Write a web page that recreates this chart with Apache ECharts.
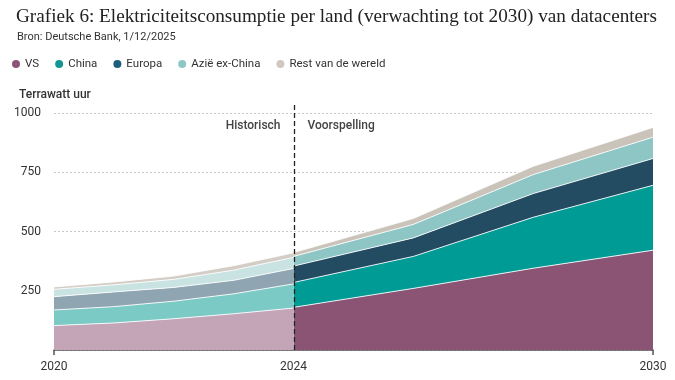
<!DOCTYPE html>
<html>
<head>
<meta charset="utf-8">
<script src="https://cdn.jsdelivr.net/npm/echarts@6/dist/echarts.min.js"></script>
<style>html,body{margin:0;padding:0;background:#fff;}#c{width:675px;height:380px;}</style>
</head>
<body>
<div id="c"></div>
<script>
// ---- data ----
const seriesNames = ['VS', 'China', 'Europa', 'Azië ex-China', 'Rest van de wereld'];
const histYears = [2020, 2021, 2022, 2023, 2024];
const foreYears = [2024, 2026, 2028, 2030];
const histVS     = [103, 114, 132, 153, 177];
const histChina  = [66, 69, 74, 84, 102];
const histEuropa = [56, 62, 58, 57, 65];
const histAzie   = [31, 30, 34, 43, 47];
const histRest   = [10, 12, 14, 19, 19];
const foreVS     = [180, 260, 345, 421];
const foreChina  = [105, 135, 215, 274];
const foreEuropa = [69, 78, 100, 113];
const foreAzie   = [41, 57, 80, 90];
const foreRest   = [16, 25, 35, 41];
const xTickLabels = [2020, 2024, 2030];
const xTickMarks = [2020, 2030];
const splitYear = 2024;
const phaseLabels = ['Historisch', 'Voorspelling'];

// ---- styles ----
const foreColors = ['#8b5475', '#009b95', '#234c63', '#8ec6c6', '#c9c3b9'];
const histColors = ['#c4a5b8', '#7ccac5', '#8fa5b1', '#c9e3e3', '#d3cdc5'];
const legendColors = ['#8b5475', '#12968f', '#1d5d7e', '#8ec6c6', '#cfc9c0'];
const sans = 'Roboto';

const histArrays = [histVS, histChina, histEuropa, histAzie, histRest];
const foreArrays = [foreVS, foreChina, foreEuropa, foreAzie, foreRest];

// value first, year second, so that the stack is computed on the y (value) dimension
function mk(id, name, yrs, arr, color, stack) {
  return {
    id: id, name: name, type: 'line', stack: stack,
    data: yrs.map((y, i) => [arr[i], y]),
    encode: { x: 1, y: 0 },
    symbol: 'none', showSymbol: false, smooth: false,
    lineStyle: { color: '#ffffff', width: 1, opacity: 0.85 },
    areaStyle: { color: color, opacity: 1 },
    itemStyle: { color: color },
    silent: true, animation: false
  };
}

const series = [];
seriesNames.forEach((n, i) => series.push(mk('f' + i, n, foreYears, foreArrays[i], foreColors[i], 'fore')));
seriesNames.forEach((n, i) => series.push(mk('h' + i, n + ' (hist)', histYears, histArrays[i], histColors[i], 'hist')));

const chart = echarts.init(document.getElementById('c'), null, { renderer: 'canvas' });
chart.setOption({
  animation: false,
  backgroundColor: '#ffffff',
  title: [
    { text: 'Grafiek 6: Elektriciteitsconsumptie per land (verwachting tot 2030) van datacenters',
      left: 11, top: 2,
      textStyle: { fontFamily: 'Liberation Serif', fontSize: 19.2, fontWeight: 'normal', color: '#222' } },
    { text: 'Bron: Deutsche Bank, 1/12/2025', left: 12, top: 27,
      textStyle: { fontFamily: sans, fontSize: 11, fontWeight: 'normal', color: '#333' } },
    { text: 'Terrawatt uur', left: 14, top: 84,
      textStyle: { fontFamily: sans, fontSize: 12, fontWeight: 500, color: '#333' } }
  ],
  legend: {
    left: 7, top: 53,
    icon: 'circle', itemWidth: 8, itemHeight: 8, itemGap: 16,
    textStyle: { fontFamily: sans, fontSize: 11.5, color: '#333' },
    data: seriesNames.map((n, i) => ({ name: n, itemStyle: { color: legendColors[i] } })),
    selectedMode: false
  },
  grid: { left: 54, right: 22, top: 113, bottom: 30, containLabel: false },
  xAxis: {
    type: 'value', min: 2020, max: 2030,
    axisLine: { show: true, lineStyle: { color: '#555', width: 1.5 } },
    axisTick: { show: true, customValues: xTickMarks, length: 5, lineStyle: { color: '#555', width: 1.5 } },
    axisLabel: { customValues: xTickLabels, formatter: v => String(v), margin: 11,
      fontFamily: sans, fontSize: 12, color: '#333' },
    splitLine: { show: false }
  },
  yAxis: {
    type: 'value', min: 0, max: 1000, interval: 250,
    axisLine: { show: false }, axisTick: { show: false },
    axisLabel: { showMinLabel: false, margin: 13, fontFamily: sans, fontSize: 12, color: '#333',
      formatter: v => (v === 0 ? '' : String(v)) },
    splitLine: { show: true, lineStyle: { color: '#c8c8c8', type: [2, 2], width: 1 } }
  },
  series: series
});

const px = chart.convertToPixel({ gridIndex: 0 }, [splitYear, 0]);
const xs = Math.round(px[0]) + 0.5;
const yb = px[1];
chart.setOption({
  graphic: [
    { type: 'line', silent: true, z: 100,
      shape: { x1: xs, y1: 105, x2: xs, y2: yb },
      style: { stroke: '#222', lineWidth: 1.3, lineDash: [5, 3] } },
    { type: 'text', silent: true, z: 100, x: xs - 14, y: 126,
      style: { text: phaseLabels[0], align: 'right', verticalAlign: 'middle',
        fontFamily: sans, fontSize: 12, fontWeight: 500, fill: '#444' } },
    { type: 'text', silent: true, z: 100, x: xs + 13, y: 126,
      style: { text: phaseLabels[1], align: 'left', verticalAlign: 'middle',
        fontFamily: sans, fontSize: 12, fontWeight: 500, fill: '#444' } }
  ]
});
</script>
</body>
</html>
